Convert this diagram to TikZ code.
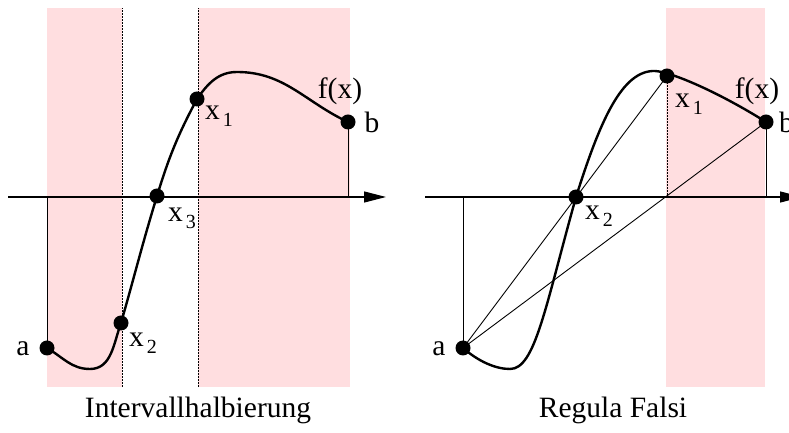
\documentclass[tikz,border=0pt]{standalone}
\usepackage{fontspec}
\setmainfont{Liberation Serif}
\usetikzlibrary{arrows.meta}
\definecolor{pinkbg}{RGB}{255,222,224}
\newcommand{\xsub}[1]{x\kern3pt\raisebox{-7pt}{\fontsize{20}{20}\selectfont #1}}
\begin{document}
\begin{tikzpicture}[x=1pt,y=1pt,
  dot/.style={circle,fill=black,inner sep=0pt,minimum size=15pt},
  lbl/.style={inner sep=0pt,font=\fontsize{29.5}{30}\selectfont},
  curve/.style={line width=2.4pt},
  thinln/.style={line width=0.9pt},
  guide/.style={line width=0.7pt,dash pattern=on 2pt off 1pt},
  axisln/.style={line width=1.2pt,-{Triangle[length=22pt,width=11pt]}},
  band/.style={fill=pinkbg,draw=none}]
\useasboundingbox (0,0) rectangle (789,433);
% ---------------- left panel ----------------
\fill[band] (47,46) rectangle (122,425);
\fill[band] (198,46) rectangle (350,425);
\coordinate (gL1b) at (122,46); \coordinate (gL1t) at (122,425);
\coordinate (gL2b) at (198,46); \coordinate (gL2t) at (198,425);
\draw[guide] (gL1b) -- (gL1t);
\draw[guide] (gL2b) -- (gL2t);
\coordinate (axL0) at (8,236); \coordinate (axL1) at (386,236);
\draw[axisln] (axL0) -- (axL1);
\coordinate (pAL) at (47,85);
\coordinate (pBL) at (348,311);
\coordinate (pX1L) at (197,334);
\coordinate (pX2L) at (121,110);
\coordinate (pX3L) at (157,237);
\coordinate (minL) at (90,64);
\coordinate (maxL) at (237,361);
\draw[thinln] (pAL) -- (pAL |- axL0);
\draw[thinln] (pBL) -- (pBL |- axL0);
\draw[curve] (pAL) to[out=-30,in=180] (minL) to[out=0,in=-110] (pX2L)
  to[out=74,in=-107] (pX3L) to[out=73,in=-118] (pX1L)
  to[out=55,in=180] (maxL) to[out=0,in=155] (pBL);
\node[dot] (aL) at (pAL) {};
\node[dot] (bL) at (pBL) {};
\node[dot] (x1L) at (pX1L) {};
\node[dot] (x2L) at (pX2L) {};
\node[dot] (x3L) at (pX3L) {};
\node[lbl] (laL) at (23,84) {a};
\node[lbl] (lbL) at (372,311) {b};
\node[lbl] (lfL) at (340,342) {f(x)};
\node[lbl,anchor=base west] (lx1L) at (205,313) {\xsub{1}};
\node[lbl,anchor=base west] (lx2L) at (129,86) {\xsub{2}};
\node[lbl,anchor=base west] (lx3L) at (168,211) {\xsub{3}};
\node[lbl,anchor=base] (capL) at (198,15) {Intervallhalbierung};
% ---------------- right panel ----------------
\fill[band] (666,46) rectangle (765,425);
\coordinate (axR0) at (425,236); \coordinate (axR1) at (802,236);
\draw[axisln] (axR0) -- (axR1);
\coordinate (pAR) at (463,85);
\coordinate (pBR) at (766,311);
\coordinate (pX1R) at (667,357);
\coordinate (pX2R) at (576,236);
\coordinate (minR) at (510,64);
\coordinate (maxR) at (655,362);
\draw[thinln] (pAR) -- (pAR |- axR0);
\draw[thinln] (pBR) -- (pBR |- axR0);
\draw[guide] (pX1R) -- (pX1R |- axR0);
\draw[thinln] (pAR) -- (pX1R);
\draw[thinln] (pAR) -- (pBR);
\draw[curve] (pAR) .. controls (478,72) and (495,64) .. (minR)
  .. controls (535,64) and (545,125) .. (pX2R)
  .. controls (600,312) and (622,363) .. (maxR)
  .. controls (672,361) and (720,340) .. (pBR);
\node[dot] (aR) at (pAR) {};
\node[dot] (bR) at (pBR) {};
\node[dot] (x1R) at (pX1R) {};
\node[dot] (x2R) at (pX2R) {};
\node[lbl] (laR) at (439,84) {a};
\node[lbl,anchor=west] (lbR) at (779,311) {b};
\node[lbl] (lfR) at (757,342) {f(x)};
\node[lbl,anchor=base west] (lx1R) at (675,325) {\xsub{1}};
\node[lbl,anchor=base west] (lx2R) at (585,213) {\xsub{2}};
\node[lbl,anchor=base] (capR) at (613,15) {Regula Falsi};
\end{tikzpicture}
\end{document}
